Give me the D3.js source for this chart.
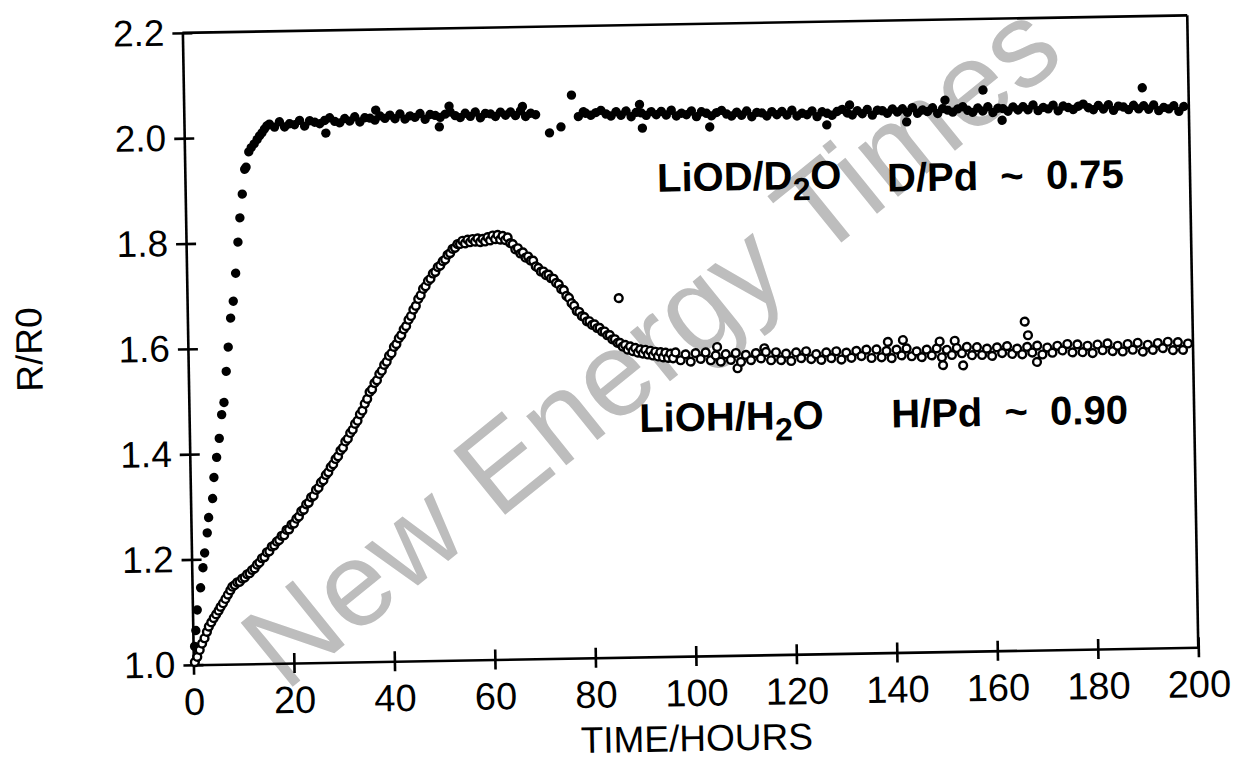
<!DOCTYPE html>
<html>
<head>
<meta charset="utf-8">
<script src="https://cdn.jsdelivr.net/npm/d3@7.9.0/dist/d3.min.js"></script>
<style>
  body { margin: 0; background: #fff; }
  svg { display: block; }
  .axis text { font-family: "Liberation Sans", Arial, sans-serif; fill: #000; }
  .axis line, .axis path { stroke: #000; stroke-width: 2.6; }
  .lbl { font-family: "Liberation Sans", Arial, sans-serif; font-weight: bold; fill: #000; }
</style>
</head>
<body>
<svg id="chart" width="1237" height="761"></svg>
<script>
// tick values
const xTicks = [0, 20, 40, 60, 80, 100, 120, 140, 160, 180, 200];
const yTicks = [1.0, 1.2, 1.4, 1.6, 1.8, 2.0, 2.2];

// LiOD / D2O run (filled dots): [hours, R/R0]
const liodPoints = [
  [0.3,1.035],[0.6,1.065],[0.95,1.104],[1.7,1.146],[2.23,1.184],[2.62,1.212],[3.21,1.250],[3.54,1.279],
  [4.4,1.315],[4.73,1.355],[5.34,1.393],[5.93,1.429],[6.49,1.474],[6.99,1.497],[7.55,1.556],[8.03,1.602],
  [8.61,1.657],[9.19,1.689],[9.76,1.742],[10.33,1.801],[10.8,1.847],[11.36,1.892],[11.92,1.939],[12.2,1.943],
  [12.8,1.972],[13.3,1.980],[13.9,1.987],[14.5,1.995],[15.0,2.002],[15.5,2.008],[16.0,2.015],[16.5,2.021],
  [17,2.024],[18,2.018],[19,2.028],[20,2.018],[21,2.024],[22,2.022],[23,2.030],[24,2.019],[25,2.029],
  [26,2.026],[27,2.023],[28,2.029],[28.2,2.005],[29,2.034],[30,2.027],[31,2.024],[32,2.032],[33,2.027],
  [34,2.035],[35,2.025],[36,2.033],[37,2.032],[38,2.028],[38.2,2.047],[39,2.036],[40,2.031],[41,2.037],
  [42,2.030],[43,2.039],[44,2.029],[45,2.035],[46,2.032],[47,2.039],[48,2.028],[49,2.037],[50,2.035],
  [50.8,2.013],[51,2.031],[52,2.037],[52.8,2.052],[53,2.041],[54,2.034],[55,2.030],[56,2.038],[57,2.032],
  [58,2.040],[59,2.029],[60,2.037],[61,2.036],[62,2.031],[63,2.039],[64,2.033],[65,2.039],[66,2.032],
  [67,2.041],[67.4,2.049],[68,2.030],[69,2.036],[70,2.033],[72.7,1.998],[75.0,2.009],[77.2,2.069],
  [78.5,2.028],[79.5,2.037],[80,2.034],[81,2.030],[82,2.035],[83,2.039],[84,2.032],[85,2.028],[86,2.036],
  [87,2.029],[88,2.037],[89,2.026],[90,2.034],[90.7,2.049],[91,2.033],[91.2,2.004],[92,2.028],[93,2.035],
  [94,2.029],[95,2.035],[96,2.028],[97,2.037],[98,2.026],[99,2.031],[100,2.028],[101,2.035],[102,2.024],
  [103,2.033],[104,2.030],[104.6,2.004],[105,2.025],[106,2.031],[107,2.035],[108,2.028],[109,2.024],
  [110,2.031],[111,2.025],[112,2.033],[113,2.022],[114,2.030],[115,2.029],[116,2.023],[117,2.031],
  [118,2.025],[119,2.031],[120,2.024],[121,2.033],[122,2.022],[123,2.027],[124,2.024],[125,2.031],
  [126,2.020],[127,2.029],[127.9,2.004],[128,2.026],[129,2.022],[130,2.029],[131,2.033],[132,2.026],
  [132.5,2.041],[133,2.022],[134,2.030],[135,2.024],[136,2.032],[137,2.021],[138,2.030],[139,2.029],
  [140,2.024],[141,2.032],[142,2.026],[143,2.032],[143.8,2.007],[144,2.025],[145,2.034],[146,2.023],
  [147,2.029],[148,2.026],[149,2.033],[150,2.022],[151,2.031],[151.5,2.047],[152,2.028],[153,2.024],
  [154,2.030],[155,2.034],[156,2.027],[157,2.023],[158,2.031],[159,2.025],[159.1,2.065],[160,2.033],
  [161,2.022],[162,2.030],[162.8,2.007],[163,2.029],[164,2.024],[165,2.032],[166,2.026],[167,2.032],
  [168,2.026],[169,2.035],[170,2.024],[171,2.030],[172,2.027],[173,2.034],[174,2.023],[175,2.032],
  [176,2.029],[177,2.025],[178,2.031],[179,2.035],[180,2.028],[181,2.024],[182,2.032],[183,2.025],
  [184,2.033],[185,2.022],[186,2.030],[187,2.028],[188,2.023],[189,2.031],[190,2.024],[190.8,2.064],
  [191,2.030],[192,2.023],[193,2.031],[194,2.020],[195,2.026],[196,2.023],[197,2.029],[198,2.018],[199,2.027]
];

// LiOH / H2O run (open circles): [hours, R/R0]
const liohPoints = [
  [0.3,1.005],[0.8,1.015],[1.3,1.028],[1.8,1.040],[2.3,1.050],[2.8,1.062],[3.2,1.072],[3.7,1.080],
  [4.2,1.088],[4.7,1.095],[5.2,1.102],[5.6,1.109],[6.1,1.116],[6.6,1.124],[7.1,1.132],[7.6,1.140],
  [8.0,1.147],[8.5,1.150],[9.0,1.155],[9.5,1.156],[10,1.162],[10.5,1.164],[11,1.170],[11.5,1.172],
  [12,1.178],[12.5,1.181],[13,1.188],[13.5,1.192],[14,1.200],[14.5,1.202],[15,1.211],[15.5,1.213],
  [16,1.222],[16.5,1.224],[17,1.231],[17.5,1.234],[18,1.242],[18.5,1.243],[19,1.253],[19.5,1.254],
  [20,1.263],[20.5,1.265],[21,1.274],[21.5,1.278],[22,1.288],[22.5,1.291],[23,1.301],[23.5,1.304],
  [24,1.314],[24.5,1.317],[25,1.328],[25.5,1.332],[26,1.342],[26.5,1.346],[27,1.356],[27.5,1.361],
  [28,1.371],[28.5,1.376],[29,1.386],[29.5,1.391],[30,1.402],[30.5,1.407],[31,1.419],[31.5,1.424],
  [32,1.435],[32.5,1.441],[33,1.452],[33.5,1.458],[34,1.470],[34.5,1.477],[35,1.490],[35.5,1.499],
  [36,1.512],[36.5,1.517],[37,1.529],[37.5,1.534],[38,1.546],[38.5,1.552],[39,1.563],[39.5,1.569],
  [40,1.580],[40.5,1.585],[41,1.597],[41.5,1.602],[42,1.613],[42.5,1.619],[43,1.630],[43.5,1.636],
  [44,1.648],[44.5,1.655],[45,1.667],[45.5,1.674],[46,1.687],[46.5,1.694],[47,1.706],[47.5,1.711],
  [48,1.721],[48.5,1.725],[49,1.735],[49.5,1.738],[50,1.747],[50.5,1.750],[51,1.758],[51.5,1.761],
  [52,1.770],[52.5,1.773],[53,1.781],[53.5,1.783],[54,1.790],[54.5,1.790],[55,1.796],[55.5,1.791],
  [56,1.798],[56.5,1.793],[57,1.799],[57.5,1.794],[58,1.800],[58.5,1.793],[59,1.799],[59.5,1.794],
  [60,1.802],[60.5,1.796],[61,1.805],[61.5,1.798],[62,1.806],[62.5,1.797],[63,1.804],[63.5,1.796],
  [64,1.801],[64.5,1.790],[65,1.788],[65.5,1.778],[66,1.780],[66.5,1.770],[67,1.772],[67.5,1.762],
  [68,1.764],[68.5,1.756],[69,1.756],[69.5,1.745],[70,1.742],[70.5,1.735],[71,1.735],[71.5,1.728],
  [72,1.729],[72.5,1.722],[73,1.721],[73.5,1.713],[74,1.710],[74.5,1.701],[75,1.699],[75.5,1.688],
  [76,1.684],[76.5,1.674],[77,1.669],[77.5,1.659],[78,1.657],[78.5,1.649],[79,1.647],[79.5,1.639],
  [80,1.639],[80.5,1.632],[81,1.633],[81.5,1.626],[82,1.626],[82.5,1.619],[83,1.619],[83.5,1.612],
  [84,1.612],[84.5,1.604],[85,1.604],[85.5,1.597],[85.9,1.682],[86,1.597],[86.5,1.590],[87,1.593],
  [87.5,1.584],[88,1.590],[88.5,1.581],[89,1.587],[89.5,1.578],[90,1.584],[90.5,1.576],[91,1.583],
  [91.5,1.574],[92,1.581],[92.5,1.572],[93,1.579],[93.5,1.570],[94,1.578],[94.5,1.568],[95,1.577],
  [95.5,1.567],[96,1.575],[96.5,1.566],[97,1.577],[98,1.562],[99,1.573],[100,1.559],[101,1.575],
  [102,1.564],[103,1.576],[104,1.561],[105,1.570],[105.3,1.586],[106,1.558],[107,1.572],[108,1.561],
  [109,1.574],[109.3,1.545],[110,1.557],[111,1.570],[112,1.560],[113,1.573],[114,1.563],[114.7,1.582],
  [115,1.575],[116,1.559],[117,1.574],[118,1.559],[119,1.571],[120,1.557],[121,1.573],[122,1.562],
  [123,1.575],[124,1.560],[125,1.569],[126,1.558],[127,1.572],[128,1.561],[129,1.574],[130,1.558],
  [131,1.571],[132,1.561],[133,1.574],[134,1.564],[135,1.576],[136,1.560],[137,1.576],[138,1.561],
  [139,1.573],[139.3,1.590],[140,1.559],[141,1.575],[142,1.564],[142.3,1.593],[143,1.577],[144,1.562],
  [145,1.571],[146,1.560],[147,1.574],[148,1.563],[149,1.576],[149.6,1.589],[150,1.559],[150.2,1.544],
  [151,1.573],[152,1.563],[152.6,1.590],[153,1.576],[154,1.566],[154.2,1.543],[155,1.578],[156,1.562],
  [157,1.577],[158,1.562],[159,1.574],[160,1.560],[161,1.576],[162,1.565],[163,1.578],[164,1.563],
  [165,1.573],[166,1.562],[166.6,1.624],[167,1.576],[167.2,1.598],[168,1.565],[168.9,1.547],[169,1.578],
  [170,1.561],[171,1.574],[172,1.564],[173,1.577],[174,1.568],[175,1.580],[176,1.564],[177,1.579],
  [178,1.564],[179,1.576],[180,1.562],[181,1.578],[182,1.567],[183,1.580],[184,1.565],[185,1.575],
  [186,1.564],[187,1.578],[188,1.567],[189,1.580],[190,1.563],[191,1.576],[192,1.566],[193,1.579],
  [194,1.569],[195,1.581],[196,1.565],[197,1.580],[198,1.565],[199,1.577]
];

const svg = d3.select("#chart");

// watermark (sits under the scan)
svg.append("text")
  .attr("transform", "translate(285,693) rotate(-39)")
  .attr("font-family", "'Liberation Sans', Arial, sans-serif")
  .attr("font-size", 120)
  .attr("fill", "#bdbdbd")
  .text("New Energy Times");

// the scanned page is tilted by about one degree
const g = svg.append("g").attr("transform", "rotate(-1,695,350)");

const x = d3.scaleLinear().domain([0, 200]).range([188, 1193]);
const y = d3.scaleLinear().domain([1, 2.2]).range([656, 24]);

// frame: top and right edges
g.append("line")
  .attr("x1", x(0)).attr("y1", y(2.2)).attr("x2", x(200)).attr("y2", y(2.2))
  .attr("stroke", "#000").attr("stroke-width", 2.6);
g.append("line")
  .attr("x1", x(200)).attr("y1", y(2.2)).attr("x2", x(200)).attr("y2", y(1))
  .attr("stroke", "#000").attr("stroke-width", 2.6);

const xAxis = g.append("g")
  .attr("class", "axis")
  .attr("transform", `translate(0,${y(1)})`)
  .call(d3.axisBottom(x).tickValues(xTicks).tickSize(10).tickSizeOuter(0).tickPadding(13));
xAxis.selectAll(".tick line").attr("y1", -10);
xAxis.selectAll("text").attr("font-size", 38);

const yAxis = g.append("g")
  .attr("class", "axis")
  .attr("transform", `translate(${x(0)},0)`)
  .call(d3.axisLeft(y).tickValues(yTicks).tickFormat(d3.format(".1f")).tickSize(10).tickSizeOuter(0).tickPadding(8));
yAxis.selectAll(".tick line").attr("x1", 10);
yAxis.selectAll("text").attr("font-size", 37);

// axis titles
g.append("text")
  .attr("x", 690).attr("y", 751)
  .attr("text-anchor", "middle")
  .attr("font-family", "'Liberation Sans', Arial, sans-serif")
  .attr("font-size", 37)
  .text("TIME/HOURS");

g.append("text")
  .attr("transform", "translate(42,338) rotate(-90)")
  .attr("text-anchor", "middle")
  .attr("font-family", "'Liberation Sans', Arial, sans-serif")
  .attr("font-size", 37)
  .text("R/R0");

// data
g.append("g").selectAll("circle")
  .data(liodPoints)
  .join("circle")
  .attr("cx", d => x(d[0]))
  .attr("cy", d => y(d[1]))
  .attr("r", 4.7)
  .attr("fill", "#000");

g.append("g").selectAll("circle")
  .data(liohPoints)
  .join("circle")
  .attr("cx", d => x(d[0]))
  .attr("cy", d => y(d[1]))
  .attr("r", 3.9)
  .attr("fill", "#fff")
  .attr("stroke", "#000")
  .attr("stroke-width", 2.4);

// series labels
function chemLabel(px, py, parts) {
  const t = g.append("text").attr("class", "lbl")
    .attr("x", px).attr("y", py).attr("font-size", 40);
  parts.forEach(([s, sub]) => {
    t.append("tspan")
      .attr("font-size", sub ? 32 : 40)
      .attr("dy", sub ? 11 : (t.selectAll("tspan").size() > 0 ? -11 : 0))
      .text(s);
  });
}
chemLabel(660, 202, [["LiOD/D", false], ["2", true], ["O", false]]);
chemLabel(638, 442, [["LiOH/H", false], ["2", true], ["O", false]]);

g.append("text").attr("class", "lbl")
  .attr("x", 890).attr("y", 195).attr("font-size", 40)
  .style("white-space", "pre")
  .text("D/Pd  ~  0.75");
g.append("text").attr("class", "lbl")
  .attr("x", 890).attr("y", 431).attr("font-size", 40)
  .style("white-space", "pre")
  .text("H/Pd  ~  0.90");
</script>
</body>
</html>
